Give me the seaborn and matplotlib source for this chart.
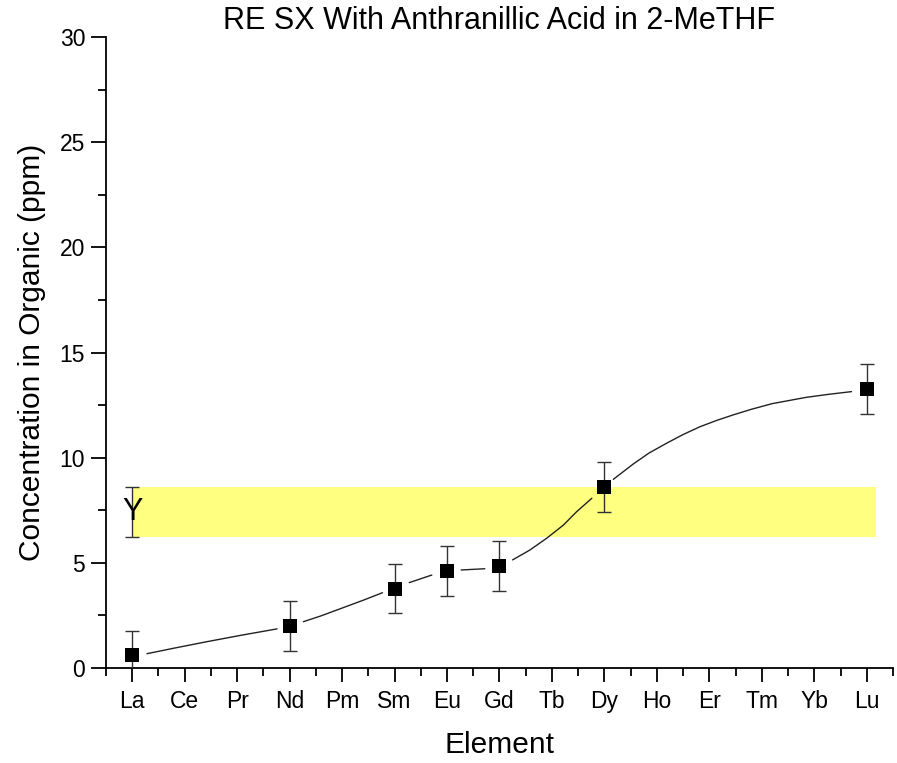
import numpy as np
import pandas as pd
import matplotlib
matplotlib.use("Agg")
import matplotlib.pyplot as plt
from matplotlib.ticker import MultipleLocator
import seaborn as sns

# ---- data ----
elements = ["La", "Ce", "Pr", "Nd", "Pm", "Sm", "Eu", "Gd", "Tb", "Dy", "Ho", "Er", "Tm", "Yb", "Lu"]
measured = ["La", "Nd", "Sm", "Eu", "Gd", "Dy", "Lu"]
conc = [0.6, 2.0, 3.78, 4.62, 4.86, 8.6, 13.25]
conc_err = [1.18, 1.19, 1.18, 1.2, 1.2, 1.18, 1.18]

y_label_text = "Y"
y_value = 7.42
y_err = 1.2

# fitted curve (segments separated where symbols are)
fit_x = [0.28, 0.79, 1.42, 2.06, 2.76,
         3.26, 3.6, 4.0, 4.4, 4.77,
         5.28, 5.71,
         6.27, 6.72,
         7.25, 7.58, 7.9, 8.22, 8.47, 8.76,
         9.17, 9.55, 9.85, 10.18, 10.5, 10.82, 11.15, 11.45, 11.8, 12.2, 12.85, 13.3, 13.71]
fit_y = [0.68, 0.94, 1.25, 1.55, 1.86,
         2.2, 2.48, 2.85, 3.22, 3.58,
         4.06, 4.42,
         4.66, 4.72,
         5.14, 5.61, 6.17, 6.8, 7.43, 8.07,
         8.97, 9.7, 10.22, 10.68, 11.1, 11.47, 11.78, 12.03, 12.3, 12.57, 12.87, 13.02, 13.14]
fit_seg = [1]*5 + [2]*5 + [3]*2 + [4]*2 + [5]*6 + [6]*13

pos = {e: i for i, e in enumerate(elements)}
df = pd.DataFrame({"x": [pos[e] for e in measured], "y": conc, "err": conc_err})
fit = pd.DataFrame({"x": fit_x, "y": fit_y, "seg": fit_seg})

# ---- plot ----
sns.set_style("ticks")
plt.rcParams["font.family"] = ["Liberation Sans", "DejaVu Sans"]
plt.rcParams["text.color"] = "black"
plt.rcParams["axes.labelcolor"] = "black"

fig = plt.figure(figsize=(8.97, 7.63), dpi=100)
ax = fig.add_axes([0.1182, 0.1245, 0.8773, 0.827])

# yellow band for Y
band_lo, band_hi = y_value - y_err, y_value + y_err
ax.fill_between([0, 14.17], [band_lo, band_lo], [band_hi, band_hi],
                color="#FFFF80", linewidth=0, zorder=1)
ax.errorbar([pos["La"]], [y_value], yerr=[y_err], fmt="none", ecolor="#333333",
            elinewidth=1.0, capsize=5, capthick=1.0, zorder=3)
ax.text(pos["La"], y_value, y_label_text, ha="center", va="center",
        fontsize=22, color="black", zorder=4)

sns.lineplot(data=fit, x="x", y="y", units="seg", estimator=None, ax=ax,
             color="#222222", linewidth=1.0, zorder=2, legend=False)

ax.errorbar(df["x"], df["y"], yerr=df["err"], fmt="none", ecolor="#333333",
            elinewidth=1.0, capsize=5, capthick=1.0, zorder=3)
sns.scatterplot(data=df, x="x", y="y", marker="s", s=100, color="black",
                edgecolor="black", linewidth=0, ax=ax, zorder=5, legend=False)

ax.set_xlim(-0.5, 14.5)
ax.set_ylim(0, 30)
ax.set_xticks(range(len(elements)))
ax.set_xticklabels(elements)
ax.xaxis.set_minor_locator(MultipleLocator(0.5))
ax.yaxis.set_major_locator(MultipleLocator(5))
ax.yaxis.set_minor_locator(MultipleLocator(2.5))
ax.tick_params(axis="both", which="major", direction="out", length=11, width=1.3,
               labelsize=16.5, colors="black", pad=4)
ax.tick_params(axis="x", which="major", length=10, pad=6)
ax.tick_params(axis="both", which="minor", direction="out", length=6, width=1.3, colors="black")
for s in ["left", "bottom"]:
    ax.spines[s].set_linewidth(1.3)
    ax.spines[s].set_color("black")
sns.despine(ax=ax)

ax.set_xlabel("Element", fontsize=21.5, labelpad=13, color="black")
ax.set_ylabel("Concentration in Organic (ppm)", fontsize=21.5, labelpad=10, color="black")
ax.set_title("RE SX With Anthranillic Acid in 2-MeTHF", fontsize=22, pad=6, color="black")

fig.savefig("out.png", dpi=100)
